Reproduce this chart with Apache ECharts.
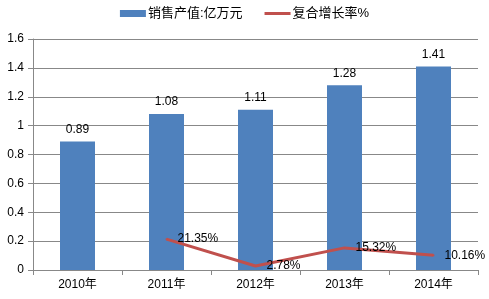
<!DOCTYPE html>
<html lang="zh">
<head>
	<meta charset="UTF-8" />
	<title>销售产值</title>
	<script src="https://cdn.jsdelivr.net/npm/echarts@6/dist/echarts.min.js"></script>
	<style>
		html, body { margin: 0; padding: 0; background: #fff; }
		#main { width: 489px; height: 299px; }
	</style>
</head>
<body>
<div id="main"></div>
<script>
	// 数据
	var years = ['2010年', '2011年', '2012年', '2013年', '2014年'];
	var output = [0.89, 1.08, 1.11, 1.28, 1.41];      // 销售产值:亿万元
	var growth = [null, 21.35, 2.78, 15.32, 10.16];   // 复合增长率%
	var yTicks = { min: 0, max: 1.6, interval: 0.2 };

	var font = '"Liberation Sans", Arial, "Noto Sans CJK SC", sans-serif';
	var mychart = echarts.init(document.getElementById('main'));

	mychart.setOption({
		animation: false,
		textStyle: { fontFamily: font },
		legend: {
			top: 2,
			left: 'center',
			itemGap: 22,
			itemWidth: 26,
			itemHeight: 7,
			textStyle: { fontSize: 13, color: '#000', fontFamily: font, padding: [0, 0, 0, -3] },
			data: [
				{ name: '销售产值:亿万元', icon: 'rect' },
				{ name: '复合增长率%', icon: 'path://M0,0h26v3h-26z' }
			]
		},
		grid: { left: 33, right: 11, top: 39, bottom: 29 },
		xAxis: {
			type: 'category',
			data: years,
			axisLine: { lineStyle: { color: '#888' } },
			axisTick: { show: true, alignWithLabel: false, length: 5, lineStyle: { color: '#888' } },
			axisLabel: { color: '#000', fontSize: 12, margin: 9, fontFamily: font }
		},
		yAxis: {
			type: 'value',
			min: yTicks.min,
			max: yTicks.max,
			interval: yTicks.interval,
			axisLine: { show: true, lineStyle: { color: '#888' } },
			axisTick: { show: true, length: 5, lineStyle: { color: '#888' } },
			axisLabel: { color: '#000', fontSize: 12, margin: 9, fontFamily: font },
			splitLine: { lineStyle: { color: '#888' } }
		},
		series: [
			{
				name: '销售产值:亿万元',
				type: 'bar',
				data: output,
				barWidth: 35,
				itemStyle: { color: '#4F81BD' },
				label: {
					show: true,
					position: 'top',
					distance: 6,
					color: '#000',
					fontSize: 12,
					fontFamily: font
				}
			},
			{
				name: '复合增长率%',
				type: 'line',
				data: growth.map(function (v) { return v == null ? null : v / 100; }),
				symbol: 'circle',
				symbolSize: 2,
				showSymbol: true,
				lineStyle: { color: '#C0504D', width: 3 },
				itemStyle: { color: '#C0504D' },
				label: {
					show: true,
					position: 'right',
					distance: 10,
					color: '#000',
					fontSize: 12,
					fontFamily: font,
					formatter: function (p) { return (p.value * 100).toFixed(2) + '%'; }
				}
			}
		]
	});
</script>
</body>
</html>
